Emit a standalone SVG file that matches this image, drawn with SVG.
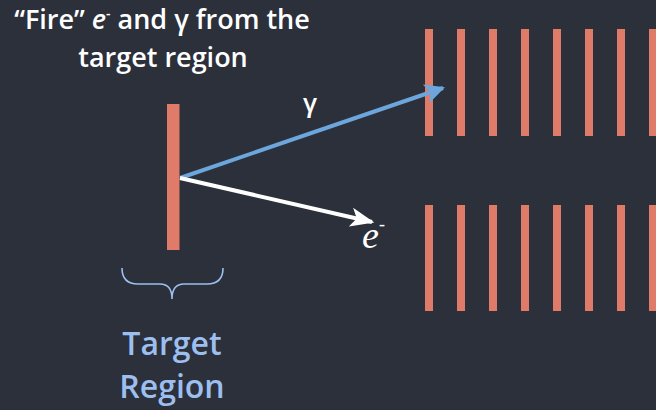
<svg xmlns="http://www.w3.org/2000/svg" width="656" height="410" viewBox="0 0 656 410">
<defs>
<style>
.bar{fill:#e07b6a}
.title{font-family:"Open Sans","Noto Sans",sans-serif;font-weight:600;fill:#ffffff;font-size:27px;text-anchor:middle}
.lbl{font-family:"Open Sans","Noto Sans",sans-serif;font-weight:600;fill:#9dbfef;font-size:32px;text-anchor:middle}
</style>
<marker id="ahBlue" viewBox="0 0 10 10" refX="9" refY="5" markerWidth="5" markerHeight="5" orient="auto" markerUnits="strokeWidth">
<path d="M0,0 L10,5 L0,10 L2.5,5 Z" fill="#6ca6dc"/>
</marker>
<marker id="ahWhite" viewBox="0 0 10 10" refX="9" refY="5" markerWidth="6.5" markerHeight="6" orient="auto" markerUnits="strokeWidth">
<path d="M0,1 L10,5 L0,9 L2.5,5 Z" fill="#ffffff"/>
</marker>
</defs>
<rect width="656" height="410" fill="#2b303b"/>
<g id="title">
<text class="title" x="162" y="29">“Fire” <tspan font-style="italic">e</tspan><tspan font-size="14" dy="-11">-</tspan><tspan dy="11"> and γ from the</tspan></text>
<text class="title" x="163" y="67">target region</text>
</g>
<g id="target">
<rect class="bar" x="167" y="104" width="12.5" height="146"/>
</g>
<g id="brace">
<path d="M122,268 Q122,284 138,284 L160,284 Q172,284 172,299 Q172,284 184,284 L207,284 Q223,284 223,268" fill="none" stroke="#9dbfef" stroke-width="1.6"/>
</g>
<g id="target-label">
<text class="lbl" x="172" y="355">Target</text>
<text class="lbl" x="172" y="398">Region</text>
</g>
<g id="detector-top">
<rect class="bar" x="425" y="29" width="8" height="107"/>
<rect class="bar" x="457" y="29" width="8" height="107"/>
<rect class="bar" x="489" y="29" width="8" height="107"/>
<rect class="bar" x="521" y="29" width="8" height="107"/>
<rect class="bar" x="553" y="29" width="8" height="107"/>
<rect class="bar" x="585" y="29" width="8" height="107"/>
<rect class="bar" x="617" y="29" width="8" height="107"/>
<rect class="bar" x="649" y="29" width="8" height="107"/>
</g>
<g id="detector-bottom">
<rect class="bar" x="425" y="205" width="8" height="106"/>
<rect class="bar" x="457" y="205" width="8" height="106"/>
<rect class="bar" x="489" y="205" width="8" height="106"/>
<rect class="bar" x="521" y="205" width="8" height="106"/>
<rect class="bar" x="553" y="205" width="8" height="106"/>
<rect class="bar" x="585" y="205" width="8" height="106"/>
<rect class="bar" x="617" y="205" width="8" height="106"/>
<rect class="bar" x="649" y="205" width="8" height="106"/>
</g>
<g id="connectors">
<line x1="180" y1="178" x2="443" y2="88" stroke="#6ca6dc" stroke-width="4" marker-end="url(#ahBlue)"/>
<line x1="180" y1="178" x2="372" y2="222" stroke="#ffffff" stroke-width="4" marker-end="url(#ahWhite)"/>
</g>
<g id="labels">
<text x="310" y="112" font-family="Open Sans,sans-serif" font-weight="600" font-size="26" fill="#ffffff" text-anchor="middle">γ</text>
<text x="362" y="248" font-family="Liberation Serif,serif" font-style="italic" font-size="38" fill="#ffffff">e<tspan font-size="18" dy="-18">-</tspan></text>
</g>
</svg>
